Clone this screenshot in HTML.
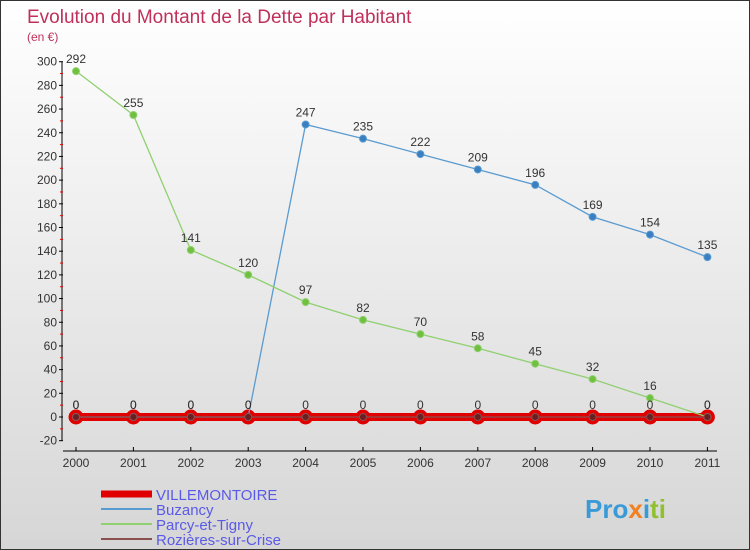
<!DOCTYPE html>
<html><head><meta charset="utf-8"><style>
body{margin:0}
#c{width:750px;height:550px;position:relative;background:linear-gradient(#ffffff,#d6d6d6);box-sizing:border-box;border:1px solid #333;font-family:"Liberation Sans",sans-serif;overflow:hidden}
svg text{font-family:"Liberation Sans",sans-serif}
</style></head><body>
<div id="c">
<svg id="s" width="750" height="550">
<text x="26" y="22" font-size="19" fill="#c0305a">Evolution du Montant de la Dette par Habitant</text>
<text x="26" y="40" font-size="12" fill="#c0305a">(en €)</text>
</svg>
</div>
<script>
const years=[2000,2001,2002,2003,2004,2005,2006,2007,2008,2009,2010,2011];
const villemontoire=[0,0,0,0,0,0,0,0,0,0,0,0];
const buzancy=[0,0,0,0,247,235,222,209,196,169,154,135];
const parcy=[292,255,141,120,97,82,70,58,45,32,16,0];
const rozieres=[0,0,0,0,0,0,0,0,0,0,0,0];
const yTicks=[-20,0,20,40,60,80,100,120,140,160,180,200,220,240,260,280,300];
const NS="http://www.w3.org/2000/svg";
const s=document.getElementById('s');
const X=i=>75+i*57.4;
const Y=v=>416-v*(379/320);
function el(t,a,p){const e=document.createElementNS(NS,t);for(const k in a)e.setAttribute(k,a[k]);(p||s).appendChild(e);return e;}
let a=el('line',{x1:61,y1:61,x2:61,y2:440,stroke:'#000'});


a=el('line',{x1:62,y1:450,x2:716,y2:450,stroke:'#000'});


yTicks.forEach(v=>{
 el('line',{x1:58,y1:Y(v),x2:62,y2:Y(v),stroke:'#000'});
 if(v<300)el('line',{x1:59,y1:Y(v+10),x2:62,y2:Y(v+10),stroke:'#e00'});
 const t=el('text',{x:56,y:Y(v)+4,'font-size':12,fill:'#333','text-anchor':'end'});
 t.textContent=v;
 
 
});
years.forEach((y,i)=>{
 el('line',{x1:X(i),y1:446,x2:X(i),y2:450,stroke:'#000'});
 const t=el('text',{x:X(i),y:466,'font-size':12,fill:'#333','text-anchor':'middle'});
 t.textContent=y;
 
 
});
function series(data,color,w,r,fill,name,labels){
 const g=el('g',{});
 
 
 el('polyline',{points:data.map((v,i)=>X(i)+','+Y(v)).join(' '),fill:'none',stroke:color,'stroke-width':w},g);
 data.forEach((v,i)=>{
  const c=el('circle',{cx:X(i),cy:Y(v),r:r,fill:fill,stroke:color,'stroke-width':1},g);
  
  
  if(labels){const t=el('text',{x:X(i),y:Y(v)-8,'font-size':12,fill:'#333','text-anchor':'middle'},g);t.textContent=v;}
 });
}
series(villemontoire,'#e00000',8,7,'#e00000','series-villemontoire',false);
series(buzancy,'#5a9bd0',1.3,3.5,'#3a7fc0','series-buzancy',true);
series(parcy,'#90d070',1.3,3.5,'#70c040','series-parcy',true);
series(rozieres,'#8a5050',1.3,3.5,'#6a2020','series-rozieres',true);
const leg=[['VILLEMONTOIRE','#e00000',7],['Buzancy','#5a9bd0',2],['Parcy-et-Tigny','#90d070',2],['Rozières-sur-Crise','#8a5050',2]];
leg.forEach((l,i)=>{
 const y=493+i*15;
 const g=el('g',{});
 
 
 el('line',{x1:100,y1:y,x2:151,y2:y,stroke:l[1],'stroke-width':l[2]},g);
 const t=el('text',{x:155,y:y+6,'font-size':15,fill:'#5a5ae8'},g);t.textContent=l[0];
});
const p=el('text',{x:584,y:517,'font-size':26,'font-weight':'bold',fill:'#3a9ad8'});
p.innerHTML='Pro<tspan fill="#f08020">x</tspan><tspan fill="#3a9ad8">i</tspan><tspan fill="#90c030">ti</tspan>';


</script>
</body></html>
